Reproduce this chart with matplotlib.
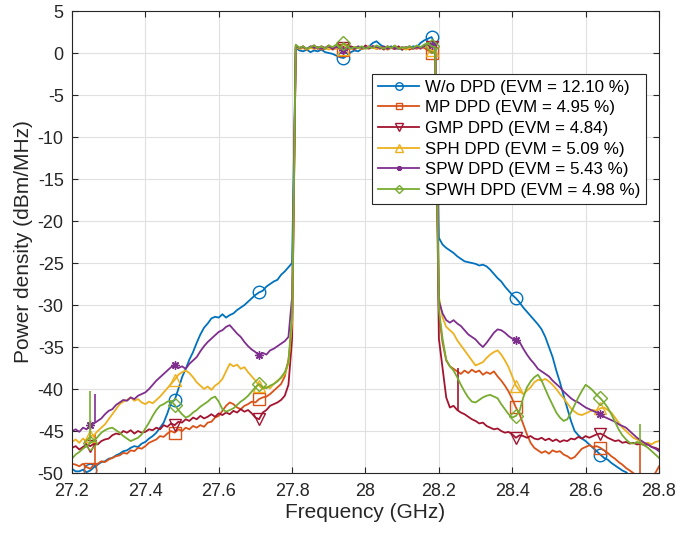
import numpy as np
import matplotlib
matplotlib.use("Agg")
import matplotlib.pyplot as plt

plt.rcParams['font.family'] = ['Liberation Sans', 'DejaVu Sans']
plt.rcParams['axes.unicode_minus'] = False

# Frequency sweep (GHz), 10 MHz resolution
freq = np.round(np.arange(27.20, 28.8001, 0.01), 2)

# ---- W/o DPD ----
wo_left = [-49.5, -49.8, -49.8, -49.6, -49.9, -49.7, -49.3, -49.0, -48.7, -48.6,
           -48.3, -48.2, -47.9, -47.7, -47.4, -47.3, -47.0, -46.8, -46.9, -46.5,
           -46.3, -45.9, -45.6, -45.2, -44.6, -44.0, -42.9, -41.6, -41.3, -40.0,
           -38.6, -37.6, -36.5, -35.6, -34.5, -33.5, -32.7, -32.2, -31.6, -31.4,
           -31.5, -31.1, -31.5, -31.2, -31.0, -30.6, -30.3, -30.0, -29.6, -29.2,
           -28.8, -28.5, -28.3, -27.8, -27.5, -27.2, -27.0, -26.4, -26.0, -25.5,
           -25.0]
wo_band = [0.6, 0.3, 0.2, 0.4, 0.1, 0.3, 0.2, 0.4, 0.1, 0.0,
           -0.1, -0.3, -0.5, -0.6, -0.3, 0.1, 0.3, 0.2, 0.5, 0.6,
           0.8, 1.2, 1.4, 1.0, 0.7, 0.6, 0.8, 0.5, 0.6, 0.4,
           0.6, 0.5, 0.8, 0.7, 1.2, 1.5, 1.7, 1.9, 1.0]
wo_right = [-22.0, -22.8, -23.2, -23.5, -23.8, -24.2, -24.5, -24.8, -24.9, -25.0,
            -25.1, -25.3, -25.2, -25.4, -25.8, -26.3, -26.8, -27.2, -27.8, -28.3,
            -28.8, -29.2, -29.7, -30.3, -30.8, -31.3, -31.8, -32.3, -32.9, -33.8,
            -35.0, -36.2, -37.8, -39.2, -40.8, -42.3, -43.8, -45.0, -45.5, -45.9,
            -46.2, -46.6, -47.0, -47.4, -47.8, -48.2, -48.4, -48.8, -49.1, -49.4,
            -49.7, -49.9, -50.3, -50.8, -51.2, -51.5, -51.8, -52.0, -52.2, -52.4,
            -52.5]

# ---- MP DPD ----
mp_left = [-48.9, -49.0, -49.2, -48.9, -49.3, -49.5, -49.0, -48.9, -48.6, -48.7,
           -48.4, -48.2, -48.0, -47.9, -47.6, -47.7, -47.3, -47.4, -47.0, -47.1,
           -46.8, -46.4, -46.2, -46.0, -45.6, -45.7, -45.3, -45.0, -45.2, -44.8,
           -45.0, -44.6, -44.8, -44.4, -44.6, -44.3, -44.5, -44.0, -43.9, -43.4,
           -43.2, -42.6, -42.0, -41.6, -41.8, -42.2, -42.4, -42.0, -41.8, -41.5,
           -41.6, -41.2, -41.0, -40.9, -40.6, -40.2, -39.8, -39.4, -38.5, -36.5,
           -33.0]
mp_band = [0.8, 0.5, 0.6, 0.4, 0.7, 0.5, 0.6, 0.4, 0.5, 0.7,
           0.4, 0.6, 0.5, 0.3, 0.5, 0.6, 0.4, 0.7, 0.5, 0.6,
           0.5, 0.8, 0.6, 0.5, 0.7, 0.4, 0.6, 0.5, 0.7, 0.5,
           0.6, 0.4, 0.6, 0.5, 0.7, 0.6, 0.3, 0.0, 0.4]
mp_right = [-31.0, -34.5, -36.6, -37.3, -37.6, -37.9, -38.2, -37.8, -38.1, -37.7,
            -38.0, -37.8, -38.3, -38.0, -38.2, -37.9, -38.5, -39.0, -39.6, -40.3,
            -41.2, -42.2, -43.0, -44.2, -45.4, -46.4, -47.0, -47.3, -47.6, -47.4,
            -47.7, -47.3, -47.5, -47.4, -47.8, -48.0, -48.3, -48.1, -47.6, -47.1,
            -46.9, -46.7, -46.9, -46.8, -47.0, -47.3, -47.6, -48.0, -48.3, -48.7,
            -49.0, -49.4, -49.7, -50.0, -50.4, -50.6, -51.0, -51.2, -51.0, -50.0,
            -49.2]

# ---- GMP DPD ----
gmp_left = [-47.0, -46.8, -47.2, -46.9, -46.6, -46.8, -46.5, -46.6, -46.2, -46.0,
            -45.9, -45.5, -45.3, -45.4, -45.0, -45.2, -44.9, -45.3, -45.0, -45.2,
            -45.1, -44.8, -44.9, -44.6, -44.8, -44.3, -44.5, -44.1, -44.3, -43.9,
            -44.0, -43.6, -43.8, -43.4, -43.6, -43.2, -43.5, -43.3, -43.0, -43.3,
            -42.9, -43.1, -42.8, -43.0, -42.6, -42.8, -42.4, -42.7, -42.5, -42.9,
            -43.4, -43.6, -42.8, -42.5, -42.0, -41.8, -41.6, -41.3, -40.8, -39.5,
            -34.0]
gmp_band = [0.9, 0.6, 0.8, 0.4, 0.7, 0.9, 0.5, 0.8, 0.6, 0.9,
            0.5, 0.7, 0.9, 0.6, 0.4, 0.8, 0.6, 0.7, 0.5, 0.9,
            0.6, 0.8, 0.5, 0.7, 0.4, 0.8, 0.6, 0.5, 0.8, 0.4,
            0.7, 0.5, 0.6, 0.8, 0.5, 0.9, 1.0, 0.7, 0.9]
gmp_right = [-34.0, -37.5, -41.0, -42.2, -42.0, -42.5, -42.8, -43.0, -43.3, -43.6,
             -43.8, -44.1, -44.0, -44.4, -44.6, -44.8, -44.7, -45.0, -45.2, -45.1,
             -45.4, -45.8, -45.5, -45.6, -45.8, -45.6, -45.9, -46.0, -45.8, -46.1,
             -45.9, -46.2, -46.0, -46.3, -46.1, -46.2, -45.9, -46.0, -45.7, -45.9,
             -45.6, -45.8, -45.6, -45.4, -45.3, -45.5, -45.8, -46.0, -46.2, -46.1,
             -46.4, -46.3, -46.5, -46.4, -46.6, -46.5, -46.7, -46.6, -46.9, -47.0,
             -47.2]

# ---- SPH DPD ----
sph_left = [-46.3, -46.0, -46.4, -45.9, -46.2, -45.6, -45.5, -45.0, -44.6, -44.2,
            -43.6, -43.0, -42.4, -41.8, -41.5, -41.3, -41.0, -41.4, -41.2, -41.6,
            -41.8, -41.5, -41.7, -41.3, -40.9, -40.4, -39.9, -39.4, -38.9, -38.3,
            -38.0, -37.8, -38.1, -38.6, -39.2, -39.6, -40.0, -39.7, -40.1, -39.6,
            -39.3, -38.8, -37.9, -37.0, -37.3, -37.1, -37.6, -37.4, -38.0, -38.5,
            -39.0, -39.6, -40.0, -39.7, -39.9, -39.4, -39.0, -38.7, -38.2, -37.0,
            -32.0]
sph_band = [0.7, 0.5, 0.6, 0.4, 0.6, 0.5, 0.7, 0.5, 0.6, 0.4,
            0.6, 0.5, 0.7, 0.5, 0.6, 0.5, 0.7, 0.6, 0.5, 0.6,
            0.8, 0.6, 0.5, 0.7, 0.6, 0.5, 0.6, 0.7, 0.5, 0.6,
            0.4, 0.6, 0.5, 0.7, 0.6, 0.8, 0.7, 0.3, 0.2]
sph_right = [-29.0, -31.5, -32.6, -33.0, -33.4, -34.2, -34.8, -35.4, -36.0, -36.6,
             -37.2, -37.0, -36.8, -36.3, -35.9, -35.6, -35.4, -35.9, -36.6, -37.4,
             -38.5, -39.6, -40.2, -40.6, -40.2, -39.8, -39.2, -38.9, -39.0, -38.8,
             -39.1, -39.5, -40.0, -40.6, -41.1, -41.7, -42.3, -42.7, -43.0, -43.1,
             -42.9, -42.7, -42.5, -42.6, -42.3, -42.2, -42.5, -42.8, -43.4, -44.0,
             -44.6, -45.0, -45.4, -45.8, -46.0, -46.3, -46.5, -46.4, -46.6, -46.3,
             -46.2]

# ---- SPW DPD ----
spw_left = [-45.0, -44.8, -45.1, -44.6, -44.8, -44.3, -44.1, -43.8, -43.5, -43.0,
            -42.6, -42.4, -41.9, -41.6, -41.3, -41.4, -41.0, -41.2, -40.8, -40.6,
            -40.4, -40.0, -39.5, -39.0, -38.6, -38.2, -37.8, -37.4, -37.1, -37.5,
            -37.3, -37.6, -37.0, -36.6, -36.2, -35.5, -34.9, -34.4, -34.0, -33.6,
            -33.2, -33.0, -32.6, -32.4, -32.9, -33.4, -33.8, -34.4, -34.9, -35.3,
            -35.6, -36.0, -35.7, -35.9, -35.4, -35.2, -34.9, -34.6, -34.3, -33.8,
            -29.0]
spw_band = [0.8, 0.6, 0.7, 0.5, 0.8, 0.6, 0.7, 0.5, 0.6, 0.8,
            0.5, 0.7, 0.6, 0.4, 0.6, 0.7, 0.5, 0.8, 0.6, 0.7,
            0.6, 0.8, 0.7, 0.6, 0.8, 0.5, 0.7, 0.6, 0.5, 0.7,
            0.6, 0.8, 0.5, 0.7, 0.6, 0.8, 1.1, 0.9, 0.7]
spw_right = [-29.5, -31.0, -31.8, -32.1, -31.8, -32.2, -32.5, -33.0, -33.5, -33.8,
             -34.1, -34.6, -35.0, -34.5, -33.9, -33.3, -32.9, -33.0, -33.3, -33.7,
             -34.0, -34.2, -34.4, -35.2, -35.9, -36.5, -37.0, -37.6, -37.9, -38.2,
             -38.5, -39.0, -39.4, -39.8, -40.3, -40.7, -41.1, -41.4, -41.6, -41.9,
             -42.2, -42.4, -42.6, -42.8, -43.0, -43.3, -43.5, -43.7, -43.9, -44.2,
             -44.4, -44.6, -45.0, -45.4, -45.8, -46.1, -46.4, -46.6, -46.9, -47.1,
             -47.4]

# ---- SPWH DPD ----
spwh_left = [-48.3, -47.8, -47.5, -47.1, -46.8, -46.4, -46.2, -45.7, -45.2, -44.9,
             -44.7, -44.6, -44.9, -45.2, -45.6, -45.9, -46.2, -46.0, -45.8, -45.4,
             -44.7, -44.0, -43.2, -42.5, -42.0, -41.8, -41.5, -41.4, -41.9, -42.5,
             -43.0, -43.4, -43.2, -42.8, -42.5, -42.1, -41.8, -41.5, -41.1, -40.9,
             -41.5, -42.4, -42.7, -42.5, -42.3, -41.9, -41.5, -41.2, -40.8, -40.3,
             -39.8, -39.4, -39.8, -39.9, -39.6, -39.4, -39.1, -38.6, -38.0, -36.8,
             -31.0]
spwh_band = [1.0, 0.6, 0.8, 0.5, 0.7, 0.9, 0.6, 0.8, 0.5, 0.9,
             0.7, 1.0, 0.6, 1.2, 0.8, 0.5, 0.7, 0.6, 0.8, 0.5,
             0.7, 0.6, 0.9, 0.7, 0.5, 0.8, 0.6, 0.9, 0.5, 0.7,
             0.6, 0.8, 0.6, 0.9, 0.7, 1.0, 1.2, 0.8, 0.7]
spwh_right = [-30.5, -34.0, -36.5, -37.3, -37.8, -38.6, -39.5, -40.3, -41.0, -41.5,
              -41.6, -41.3, -41.0, -40.8, -40.7, -40.9, -41.1, -41.8, -42.4, -43.0,
              -43.4, -43.2, -42.6, -41.0, -39.8, -39.1, -38.6, -38.3, -39.0, -40.0,
              -41.0, -41.9, -42.8, -43.4, -43.8, -43.6, -42.8, -41.9, -41.0, -40.2,
              -39.5, -39.8, -40.2, -40.7, -41.1, -41.6, -42.2, -43.0, -43.9, -44.8,
              -45.5, -46.0, -46.4, -46.5, -46.3, -46.5, -46.7, -47.0, -47.4, -47.8,
              -48.2]

# Isolated spurs: (frequency GHz, floor dB, peak dB)
mp_spurs = [(27.262, -49.0, -45.3), (28.748, -50.5, -46.5)]
gmp_spurs = [(28.251, -42.5, -37.5)]
spw_spurs = [(27.263, -44.1, -40.6)]
spwh_spurs = [(27.250, -46.4, -40.2), (28.749, -46.5, -44.2)]

labels = ['W/o DPD (EVM = 12.10 %)', 'MP DPD (EVM = 4.95 %)', 'GMP DPD (EVM = 4.84)',
          'SPH DPD (EVM = 5.09 %)', 'SPW DPD (EVM = 5.43 %)', 'SPWH DPD (EVM = 4.98 %)']
colors = ['#0072BD', '#D95319', '#A2142F', '#EDB120', '#7E2F8E', '#77AC30']
markers = ['o', 's', 'v', '^', (8, 2, 0), 'D']
msizes = [9, 8, 9, 9, 6, 7]

series = [wo_left + wo_band + wo_right,
          mp_left + mp_band + mp_right,
          gmp_left + gmp_band + gmp_right,
          sph_left + sph_band + sph_right,
          spw_left + spw_band + spw_right,
          spwh_left + spwh_band + spwh_right]
spurs = [[], mp_spurs, gmp_spurs, [], spw_spurs, spwh_spurs]

marker_idx = [5, 28, 51, 74, 98, 121, 144]

fig = plt.figure(figsize=(6.94, 5.34), dpi=100)
ax = fig.add_axes([0.1037, 0.1142, 0.8459, 0.8652])

for vals, lab, c, m, ms, sp in zip(series, labels, colors, markers, msizes, spurs):
    ax.plot(freq, vals, color=c, lw=1.3, marker=m, ms=ms, mfc='none', mew=1.0,
            markevery=marker_idx, label=lab)
    for f0, lo, hi in sp:
        ax.vlines(f0, lo, hi, color=c, lw=1.2)

ax.set_xlim(27.2, 28.8)
ax.set_ylim(-50, 5)
xt = [27.2, 27.4, 27.6, 27.8, 28.0, 28.2, 28.4, 28.6, 28.8]
ax.set_xticks(xt)
ax.set_xticklabels(['27.2', '27.4', '27.6', '27.8', '28', '28.2', '28.4', '28.6', '28.8'])
yt = list(range(-50, 6, 5))
ax.set_yticks(yt)
ax.set_yticklabels([str(v) for v in yt])

dark = '#262626'
ax.grid(True, color='#E0E0E0', lw=0.8)
ax.set_axisbelow(True)
for s in ax.spines.values():
    s.set_color(dark)
    s.set_linewidth(0.8)
ax.tick_params(direction='in', top=True, right=True, length=4.5, width=0.8,
               colors=dark, labelsize=13)
ax.tick_params(axis='x', pad=7)
ax.tick_params(axis='y', pad=6)
ax.set_xlabel('Frequency (GHz)', fontsize=15, color=dark, labelpad=2)
ax.set_ylabel('Power density (dBm/MHz)', fontsize=15, color=dark, labelpad=3)

leg = ax.legend(loc='upper right', bbox_to_anchor=(0.978, 0.864), borderaxespad=0,
                fontsize=12.2, frameon=True, fancybox=False, framealpha=1,
                edgecolor=dark, handlelength=2.4, handletextpad=0.35,
                labelspacing=0.33, borderpad=0.35, markerscale=0.6)
leg.get_frame().set_linewidth(0.8)

fig.savefig('out.png', dpi=100)
